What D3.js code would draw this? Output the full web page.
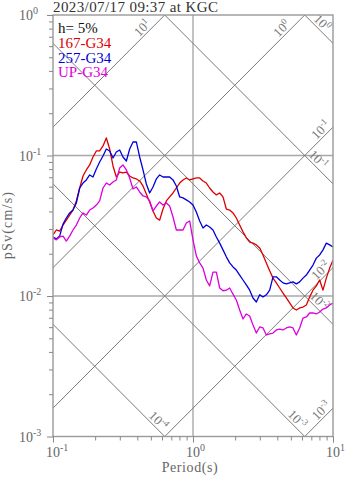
<!DOCTYPE html>
<html><head><meta charset="utf-8">
<script src="https://cdn.jsdelivr.net/npm/d3@7"></script>
<style>
html,body{margin:0;padding:0;background:#fff;}
svg{display:block;}
text{font-family:"Liberation Serif","Times New Roman",serif;}
</style></head>
<body>
<script>
// ---------- data ----------
const title = "2023/07/17 09:37 at KGC";
const dampingLabel = "h= 5%";
const seriesNames = ["167-G34", "257-G34", "UP-G34"];
const seriesColors = ["#dd0000", "#0000dd", "#dd00dd"];

const periods = [
0.1,0.1056,0.1116,0.1179,0.1245,0.1315,0.1389,0.1468,0.1551,0.1638,
0.1730,0.1828,0.1931,0.2039,0.2154,0.2276,0.2404,0.2540,0.2683,0.2834,
0.2994,0.3162,0.3341,0.3529,0.3728,0.3938,0.4160,0.4394,0.4642,0.4903,
0.5179,0.5471,0.5780,0.6105,0.6449,0.6813,0.7197,0.7603,0.8031,0.8483,
0.8961,0.9466,1.0,1.056,1.116,1.179,1.245,1.315,1.389,1.468,
1.551,1.638,1.730,1.828,1.931,2.039,2.154,2.276,2.404,2.540,
2.683,2.834,2.994,3.162,3.341,3.529,3.728,3.938,4.160,4.394,
4.642,4.903,5.179,5.471,5.780,6.105,6.449,6.813,7.197,7.603,
8.031,8.483,8.961,9.466,10.0];

const sv167 = [
0.0272,0.0295,0.0290,0.0320,0.0347,0.0377,0.0409,0.0475,0.0587,0.0715,
0.0789,0.0856,0.0976,0.1077,0.1077,0.1169,0.1333,0.1112,0.0842,0.0703,
0.0763,0.0751,0.0763,0.0715,0.0692,0.0681,0.0659,0.0607,0.0532,0.0467,
0.0403,0.0359,0.0347,0.0416,0.0475,0.0507,0.0541,0.0587,0.0637,0.0670,
0.0692,0.0670,0.0681,0.0692,0.0692,0.0659,0.0637,0.0587,0.0550,0.0524,
0.0541,0.0507,0.0416,0.0409,0.0390,0.0359,0.0320,0.0286,0.0259,0.0242,
0.0238,0.0231,0.0220,0.0196,0.0172,0.0151,0.0134,0.0124,0.0114,0.0105,
0.00968,0.00892,0.00822,0.00795,0.00822,0.00835,0.00863,0.00984,0.0110,0.0118,
0.0130,0.0110,0.0134,0.0158,0.0180];

const sv257 = [
0.0263,0.0255,0.0267,0.0325,0.0359,0.0390,0.0409,0.0459,0.0587,0.0637,
0.0670,0.0727,0.0703,0.0802,0.0899,0.0992,0.1112,0.1077,0.0960,0.1059,
0.1094,0.0976,0.0914,0.1112,0.1248,0.1248,0.0976,0.0789,0.0627,0.0541,
0.0597,0.0681,0.0727,0.0703,0.0703,0.0703,0.0670,0.0607,0.0507,0.0499,
0.0483,0.0467,0.0444,0.0396,0.0342,0.0305,0.0320,0.0310,0.0295,0.0263,
0.0238,0.0213,0.0190,0.0172,0.0161,0.0153,0.0141,0.0130,0.0120,0.0110,
0.00968,0.00906,0.0102,0.00984,0.0102,0.0110,0.0137,0.0137,0.0130,0.0124,
0.0122,0.0124,0.0126,0.0122,0.0126,0.0134,0.0141,0.0153,0.0166,0.0186,
0.0196,0.0213,0.0238,0.0231,0.0223];

const svUP = [
0.0259,0.0251,0.0263,0.0267,0.0246,0.0267,0.0295,0.0320,0.0359,0.0390,
0.0377,0.0409,0.0423,0.0444,0.0475,0.0587,0.0637,0.0617,0.0648,0.0670,
0.0815,0.0856,0.0789,0.0692,0.0578,0.0597,0.0550,0.0515,0.0507,0.0475,
0.0403,0.0437,0.0467,0.0444,0.0459,0.0437,0.0365,0.0295,0.0295,0.0295,
0.0331,0.0342,0.0251,0.0193,0.0172,0.0158,0.0130,0.0118,0.0148,0.0148,
0.0114,0.0109,0.0110,0.0114,0.0103,0.00937,0.00795,0.00686,0.00745,0.00721,
0.00622,0.00545,0.00602,0.00592,0.00528,0.00537,0.00545,0.00573,0.00582,0.00573,
0.00592,0.00602,0.00592,0.00528,0.00592,0.00697,0.00709,0.00757,0.00757,0.00745,
0.00769,0.00808,0.00822,0.00863,0.00892];

const seriesValues = [sv167, sv257, svUP];

// axis ticks (decades) and tripartite guide values
const xDecades = [0.1, 1, 10];
const yDecades = [0.001, 0.01, 0.1, 1];
const accelValues = [10, 1, 0.1, 0.01, 0.001];      // Sa lines (up-right)
const dispValues  = [1, 0.1, 0.01, 0.001, 0.0001];  // Sd lines (down-right)
// guide labels: kind, value, exponent text, period at which the label sits
const guideLabels = [
  {kind:"a", v:10,    exp:"1",  T:0.47},
  {kind:"a", v:1,     exp:"0",  T:4.66},
  {kind:"a", v:0.1,   exp:"-1", T:8.85},
  {kind:"a", v:0.01,  exp:"-2", T:8.85},
  {kind:"a", v:0.001, exp:"-3", T:8.9},
  {kind:"d", v:1,     exp:"0",  T:7.73},
  {kind:"d", v:0.1,   exp:"-1", T:7.24},
  {kind:"d", v:0.01,  exp:"-2", T:7.38},
  {kind:"d", v:0.001, exp:"-3", T:5.13},
  {kind:"d", v:0.0001,exp:"-4", T:0.523}
];

// ---------- layout ----------
const W = 347, H = 478;
const m = {left:53, top:15, right:14, bottom:41.5};
const pw = W - m.left - m.right;   // 280
const ph = H - m.top - m.bottom;   // 421.5

const svg = d3.select("body").append("svg").attr("width", W).attr("height", H);
const x = d3.scaleLog().domain([0.1, 10]).range([m.left, m.left + pw]);
const y = d3.scaleLog().domain([0.001, 1]).range([m.top + ph, m.top]);

svg.append("defs").append("clipPath").attr("id","clip")
  .append("rect").attr("x", m.left).attr("y", m.top).attr("width", pw).attr("height", ph);

const TWO_PI = 2 * Math.PI;
const svFromA = (a, T) => a * T / TWO_PI;
const svFromD = (d, T) => TWO_PI * d / T;

// grid lines at decades
const gridColor = "#a8a8a8";
const g = svg.append("g");
xDecades.slice(1, -1).forEach(v => {
  g.append("line").attr("x1", x(v)).attr("x2", x(v)).attr("y1", m.top).attr("y2", m.top + ph)
    .attr("stroke", gridColor).attr("stroke-width", 1.4);
});
yDecades.slice(1, -1).forEach(v => {
  g.append("line").attr("x1", m.left).attr("x2", m.left + pw).attr("y1", y(v)).attr("y2", y(v))
    .attr("stroke", gridColor).attr("stroke-width", 1.4);
});

// tripartite diagonal lines
const diag = svg.append("g").attr("clip-path", "url(#clip)");
const line = d3.line().x(d => x(d[0])).y(d => y(d[1]));
const Tends = [0.01, 100];
accelValues.forEach(a => {
  diag.append("path").attr("d", line(Tends.map(T => [T, svFromA(a, T)])))
    .attr("fill", "none").attr("stroke", "#7a7a7a").attr("stroke-width", 1);
});
dispValues.forEach(dv => {
  diag.append("path").attr("d", line(Tends.map(T => [T, svFromD(dv, T)])))
    .attr("fill", "none").attr("stroke", "#7a7a7a").attr("stroke-width", 1);
});

// guide labels
guideLabels.forEach(L => {
  const sv = L.kind === "a" ? svFromA(L.v, L.T) : svFromD(L.v, L.T);
  const px = x(L.T), py = y(sv);
  const ang = L.kind === "a" ? -45 : 45;
  const t = svg.append("text")
    .attr("transform", `translate(${px},${py}) rotate(${ang})`)
    .attr("text-anchor", "middle").attr("dy", -2.5)
    .attr("fill", "#777").attr("font-size", 13);
  t.append("tspan").text("10");
  t.append("tspan").attr("font-size", 9).attr("dy", -5).text(L.exp);
});

// series curves
const curves = svg.append("g").attr("clip-path", "url(#clip)");
seriesValues.forEach((vals, i) => {
  curves.append("path")
    .attr("d", line(periods.map((T, k) => [T, vals[k]])))
    .attr("fill", "none").attr("stroke", seriesColors[i]).attr("stroke-width", 1.3)
    .attr("stroke-linejoin", "round");
});

// frame
svg.append("rect").attr("x", m.left).attr("y", m.top).attr("width", pw).attr("height", ph)
  .attr("fill", "none").attr("stroke", "#999").attr("stroke-width", 1.4);

// axes ticks
const tickColor = "#888";
const xAxis = d3.axisBottom(x).tickValues(d3.range(0, 3).flatMap(k => d3.range(1, 10).map(j => j * Math.pow(10, k - 1))).concat([10]))
  .tickSize(4).tickFormat("");
const gx = svg.append("g").attr("transform", `translate(0,${m.top + ph})`).call(xAxis);
gx.select(".domain").remove();
gx.selectAll(".tick line").attr("stroke", tickColor)
  .attr("y2", d => xDecades.some(v => Math.abs(v - d) < 1e-9) ? 6 : 4);

const yAxis = d3.axisLeft(y).tickValues(d3.range(0, 3).flatMap(k => d3.range(1, 10).map(j => j * Math.pow(10, k - 3))).concat([1]))
  .tickSize(4).tickFormat("");
const gy = svg.append("g").attr("transform", `translate(${m.left},0)`).call(yAxis);
gy.select(".domain").remove();
gy.selectAll(".tick line").attr("stroke", tickColor)
  .attr("x2", d => yDecades.some(v => Math.abs(v - d) < 1e-9) ? -6 : -4);

// tick labels
const expOf = v => String(Math.round(Math.log10(v)));
xDecades.forEach(v => {
  svg.append("text").attr("x", x(v)).attr("y", 457).attr("text-anchor", "middle")
    .attr("fill", "#666").attr("font-size", 14).text("10");
  svg.append("text").attr("x", x(v) + 7).attr("y", 451).attr("text-anchor", "start")
    .attr("fill", "#666").attr("font-size", 10).text(expOf(v));
});
yDecades.forEach(v => {
  svg.append("text").attr("x", 33).attr("y", y(v) + 5).attr("text-anchor", "end")
    .attr("fill", "#666").attr("font-size", 14).text("10");
  svg.append("text").attr("x", 33).attr("y", y(v) - 1).attr("text-anchor", "start")
    .attr("fill", "#666").attr("font-size", 10).text(expOf(v));
});

// axis titles
svg.append("text").attr("x", 190).attr("y", 472).attr("text-anchor", "middle")
  .attr("fill", "#666").attr("font-size", 14).attr("letter-spacing", 0.6).text("Period(s)");
svg.append("text").attr("transform", "translate(12,225) rotate(-90)").attr("text-anchor", "middle")
  .attr("fill", "#666").attr("font-size", 14).attr("letter-spacing", 1.2).text("pSv(cm/s)");

// title
svg.append("text").attr("x", 53).attr("y", 11.5).attr("fill", "#333").attr("font-size", 15)
  .attr("letter-spacing", 0.4).text(title);

// legend
svg.append("text").attr("x", 58).attr("y", 33).attr("fill", "#111").attr("font-size", 15).text(dampingLabel);
seriesNames.forEach((n, i) => {
  svg.append("text").attr("x", 58).attr("y", 48 + i * 14.7).attr("fill", seriesColors[i])
    .attr("font-size", 15).text(n);
});
</script>
</body></html>
